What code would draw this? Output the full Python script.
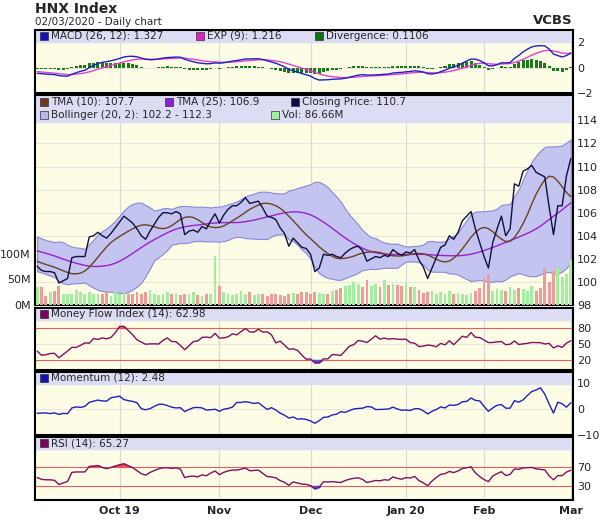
import numpy as np, pandas as pd, seaborn as sns
import matplotlib
matplotlib.use("Agg")
import matplotlib.pyplot as plt
from matplotlib.patches import Rectangle

sns.set_theme(style="white")
plt.rcParams["font.family"] = "DejaVu Sans"

warmup_close = [103.0,103.4,103.2,102.8,103.1,103.6,103.9,103.5,103.2,103.0,102.7,102.9,103.3,
                103.0,102.6,102.4,102.7,102.3,102.0,101.8,102.1,101.7,101.4,101.6,101.2]
close = [101.35,101.0,100.9,100.9,100.8,99.9,100.1,100.3,102.1,102.2,
         102.2,102.2,103.9,104.0,104.3,104.0,103.8,104.2,104.7,105.2,
         105.7,105.4,105.1,104.6,104.0,103.7,104.4,105.0,105.6,106.0,
         106.0,105.9,106.1,105.9,104.1,104.4,104.5,104.3,104.8,104.6,
         105.3,105.9,105.1,105.8,106.3,106.6,106.6,106.9,107.3,106.8,
         106.9,107.0,106.4,105.7,105.6,105.4,104.7,104.2,103.1,103.8,
         103.4,103.0,102.9,102.4,100.9,101.2,102.4,102.3,102.4,102.2,
         102.1,102.5,102.8,103.0,103.1,102.7,101.8,102.0,102.2,102.1,
         102.3,102.2,102.8,102.5,102.3,102.6,102.5,102.8,101.9,101.3,
         100.3,101.2,102.1,103.0,103.2,104.0,103.7,104.3,105.3,105.7,
         106.1,104.6,103.4,102.2,101.2,103.4,104.6,105.7,104.0,104.6,
         108.5,108.3,109.6,109.8,110.1,109.5,109.3,109.1,106.5,104.1,
         106.6,106.6,109.2,110.7]
volume_m = [35,36,18,25,27,38,22,22,22,30, 25,22,25,22,22,22,25,18,25,22,
            25,22,22,25,22,25,30,22,20,22, 25,22,22,20,22,22,25,20,17,22,
            22,95,38,25,22,20,22,28,22,25, 20,22,22,18,22,22,20,18,22,24,
            22,25,26,22,25,24,22,22,28,30, 34,38,40,45,42,35,48,38,42,36,
            48,40,42,40,38,44,36,35,30,24, 26,28,22,25,22,28,22,24,22,20,
            24,28,33,52,60,28,32,30,28,35,
            30,33,32,28,38,28,33,72,45,66,72,55,60,89]
month_labels = ["Oct 19", "Nov", "Dec", "Jan 20", "Feb", "Mar"]
month_idx = [19, 42, 63, 85, 103, 123]

n = len(close)
full = pd.Series(warmup_close + close, dtype=float)
W = len(warmup_close)
x = np.arange(n)

def tma(s, p):
    a = int(np.ceil(p / 2)); b = p // 2 + 1
    return s.rolling(a, min_periods=1).mean().rolling(b, min_periods=1).mean()
tma10 = tma(full, 10).iloc[W:].values
tma25 = tma(full, 25).iloc[W:].values
mid = full.rolling(20, min_periods=1).mean()
sd = full.rolling(20, min_periods=2).std(ddof=0)
bu = (mid + 2 * sd).iloc[W:].values; bl = (mid - 2 * sd).iloc[W:].values
ema12 = full.ewm(span=12, adjust=False).mean(); ema26 = full.ewm(span=26, adjust=False).mean()
macd = (ema12 - ema26); sig = macd.ewm(span=9, adjust=False).mean()
div = (macd - sig).iloc[W:].values; macd = macd.iloc[W:].values; sig = sig.iloc[W:].values
mom = (full - full.shift(12)).iloc[W:].values
d = full.diff()
up = d.clip(lower=0).ewm(alpha=1/14, adjust=False).mean(); dn = (-d.clip(upper=0)).ewm(alpha=1/14, adjust=False).mean()
rsi = (100 - 100 / (1 + up / dn)).iloc[W:].values
vfull = pd.Series([30.0] * W + volume_m)
mf = full * vfull
pos = mf.where(d > 0, 0).rolling(14, min_periods=1).sum(); neg = mf.where(d < 0, 0).rolling(14, min_periods=1).sum()
mfi = (100 - 100 / (1 + pos / neg)).iloc[W:].values

fig = plt.figure(figsize=(6.03, 5.23), dpi=100)
L, Wd = 35/603, 538/603
def panel(ytop, ybot):
    return fig.add_axes([L, 1 - ybot/523, Wd, (ybot - ytop)/523])
bg = "#fdfde6"; hdr = "#dcdcf5"

def style(ax, ylim, yticks, hdr_px, labels, h_px):
    hdr_frac = hdr_px / h_px
    ax.set_facecolor(bg)
    ax.set_xlim(-0.5, n - 0.5); ax.set_ylim(*ylim)
    for m in month_idx:
        ax.axvline(m, color="#d8d8d8", lw=0.8, zorder=0)
    for t in yticks:
        ax.axhline(t, color="#e0e0e0", lw=0.6, zorder=0)
    ax.add_patch(Rectangle((0, 1 - hdr_frac), 1, hdr_frac, transform=ax.transAxes, color=hdr, zorder=0.5))
    ax.yaxis.tick_right(); ax.set_yticks(yticks)
    ax.tick_params(axis="y", labelsize=8, length=0, pad=3, labelleft=False, labelright=True)
    ax.set_xticks([])
    for s in ax.spines.values():
        s.set_linewidth(1.5); s.set_color("black")
    rowh = hdr_px / len(labels)
    for row, items in enumerate(labels):
        xp = 0.01
        for col, txt in items:
            yc = 1 - (row + 0.5) * rowh / h_px
            sq = 8 / h_px
            ax.add_patch(Rectangle((xp, yc - sq / 2), 8 / 538, sq, transform=ax.transAxes,
                                   facecolor=col, edgecolor="#333", lw=0.5, zorder=3))
            ax.text(xp + 11 / 538, yc, txt, transform=ax.transAxes, fontsize=7.5, va="center", zorder=3)
            xp += 0.0115 * len(txt) + 0.06

# MACD
ax1 = panel(30, 93)
style(ax1, (-2, 2.96), [-2, 0, 2], 12,
      [[("#1010c0", "MACD (26, 12): 1.327"), ("#e020c0", "EXP (9): 1.216"), ("#107010", "Divergence: 0.1106")]], 63)
ax1.bar(x, div, width=0.7, color="#1a7a1a", edgecolor="none", linewidth=0, zorder=2)
sns.lineplot(x=x, y=sig, ax=ax1, color="#e040d0", lw=1, zorder=3)
sns.lineplot(x=x, y=macd, ax=ax1, color="#2020c0", lw=1, zorder=3)

# Price
ax2 = panel(95, 305)
style(ax2, (98, 116.2), list(range(98, 115, 2)), 27,
      [[("#6b3a1a", "TMA (10): 107.7"), ("#8a20d0", "TMA (25): 106.9"), ("#101040", "Closing Price: 110.7")],
       [("#b8b8ee", "Bollinger (20, 2): 102.2 - 112.3"), ("#a0f0a0", "Vol: 86.66M")]], 210)
ax2.fill_between(x, bl, bu, color="#c4c4f0", lw=0.8, edgecolor="#8888d8", zorder=2)
sns.lineplot(x=x, y=tma25, ax=ax2, color="#9a20d0", lw=1, zorder=3)
sns.lineplot(x=x, y=tma10, ax=ax2, color="#6b4020", lw=1, zorder=3)
sns.lineplot(x=x, y=close, ax=ax2, color="#101040", lw=1, zorder=4)
axv = ax2.twinx()
axv.set_ylim(0, 411); axv.set_xlim(-0.5, n - 0.5)
colors = ["#f09a9a" if i > 0 and close[i] < close[i-1] else "#a0eea0" for i in range(n)]
axv.bar(x, volume_m, width=0.65, color=colors, edgecolor="none", linewidth=0, zorder=1)
axv.set_yticks([0, 50, 100]); axv.set_yticklabels(["0M", "50M", "100M"])
axv.tick_params(axis="y", labelsize=8, length=0, pad=3, labelleft=True, labelright=False, left=False, right=False)
axv.set_xticks([])
axv.patch.set_visible(False)
for s in axv.spines.values(): s.set_visible(False)
ax2.tick_params(axis="y", labelleft=False, labelright=True)

# MFI
ax3 = panel(308, 370)
style(ax3, (1.25, 117.5), [20, 50, 80], 12, [[("#800060", "Money Flow Index (14): 62.98")]], 62)
for h in (20, 80): ax3.axhline(h, color="#e06060", lw=0.8, zorder=1)
ax3.fill_between(x, mfi, 20, where=mfi < 20, color="#5050e0", interpolate=True, zorder=2)
ax3.fill_between(x, mfi, 80, where=mfi > 80, color="#f05050", interpolate=True, zorder=2)
sns.lineplot(x=x, y=mfi, ax=ax3, color="#801060", lw=1, zorder=3)

# Momentum
ax4 = panel(372, 435)
style(ax4, (-10, 14.2), [-10, 0, 10], 12, [[("#1010c0", "Momentum (12): 2.48")]], 63)
sns.lineplot(x=x, y=mom, ax=ax4, color="#2020c0", lw=1, zorder=3)

# RSI
ax5 = panel(437, 500)
style(ax5, (0.5, 133), [30, 70], 12, [[("#800060", "RSI (14): 65.27")]], 63)
for h in (30, 70): ax5.axhline(h, color="#e06060", lw=0.8, zorder=1)
ax5.fill_between(x, rsi, 70, where=rsi > 70, color="#f05050", interpolate=True, zorder=2)
ax5.fill_between(x, rsi, 30, where=rsi < 30, color="#5050e0", interpolate=True, zorder=2)
sns.lineplot(x=x, y=rsi, ax=ax5, color="#801060", lw=1, zorder=3)
ax5.set_xticks(month_idx); ax5.set_xticklabels(month_labels, fontsize=8, fontweight="bold")
ax5.tick_params(axis="x", length=0, pad=4)

for a in (ax1, ax2, ax3, ax4, ax5):
    a.set_ylabel(""); a.set_xlabel("")
    if a.get_legend(): a.get_legend().remove()
axv.set_ylabel("")

fig.text(35/603, 1 - 9/523, "HNX Index", fontsize=10, fontweight="bold", va="center")
fig.text(35/603, 1 - 22/523, "02/03/2020 - Daily chart", fontsize=7.5, va="center")
fig.text(573/603, 1 - 21/523, "VCBS", fontsize=9.5, fontweight="bold", va="center", ha="right")
fig.patch.set_facecolor("white")
fig.savefig("out.png", dpi=100)
